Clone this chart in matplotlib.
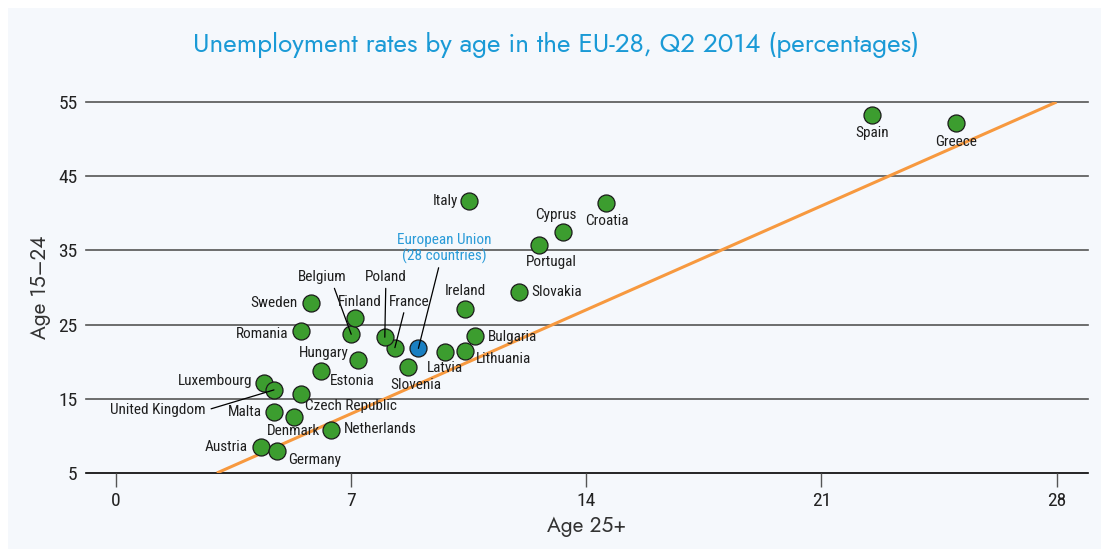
import matplotlib
matplotlib.use("Agg")
from matplotlib import pyplot as plt
from matplotlib.patches import Rectangle
import numpy as np

# data (% unemployment, Q2 2014)
countries = ["Spain", "Greece", "Italy", "Croatia", "Cyprus", "Portugal", "Slovakia",
             "Ireland", "Bulgaria", "Lithuania", "Latvia", "Slovenia", "France", "Poland",
             "Belgium", "Finland", "Sweden", "Romania", "Hungary", "Estonia", "Luxembourg",
             "United Kingdom", "Czech Republic", "Malta", "Denmark", "Netherlands",
             "Austria", "Germany"]
age_25_plus = [22.5, 25.0, 10.5, 14.6, 13.3, 12.6, 12.0, 10.4, 10.7, 10.4, 9.8, 8.7, 8.3, 8.0,
               7.0, 7.1, 5.8, 5.5, 7.2, 6.1, 4.4, 4.7, 5.5, 4.7, 5.3, 6.4, 4.3, 4.8]
age_15_24 = [53.2, 52.2, 41.7, 41.4, 37.5, 35.7, 29.4, 27.1, 23.5, 21.5, 21.3, 19.3, 21.9, 23.3,
             23.7, 25.9, 27.9, 24.1, 20.2, 18.7, 17.1, 16.2, 15.7, 13.2, 12.6, 10.8, 8.5, 8.0]
eu_name = "European Union\n(28 countries)"
eu_25_plus = 9.0
eu_15_24 = 21.8

# reference line
ref_x = [3, 28]
ref_y = [5, 55]

x_ticks = [0, 7, 14, 21, 28]
y_ticks = [5, 15, 25, 35, 45, 55]

# label placement: offset in pixels, alignment, leader line relpos (None = no line)
label_pos = {
    "Spain": (0, -18, "center", None),
    "Greece": (0, -19, "center", None),
    "Italy": (-11, 0, "right", None),
    "Croatia": (0, -18, "center", None),
    "Cyprus": (-7, 17, "center", None),
    "Portugal": (12, -17, "center", None),
    "Slovakia": (12, 0, "left", None),
    "Ireland": (0, 18, "center", None),
    "Bulgaria": (12, -1, "left", None),
    "Lithuania": (10, -8, "left", None),
    "Latvia": (0, -16, "center", None),
    "Slovenia": (7, -18, "center", None),
    "France": (14, 46, "center", (0.4, 0)),
    "Poland": (1, 60, "center", (0.5, 0)),
    "Belgium": (-29, 57, "center", (0.72, 0)),
    "Finland": (5, 16, "center", None),
    "Sweden": (-13, 0, "right", None),
    "Romania": (-12, -3, "right", None),
    "Hungary": (-9, 7, "right", None),
    "Estonia": (9, -10, "left", None),
    "Luxembourg": (-12, 2, "right", None),
    "United Kingdom": (-68, -20, "right", (1.04, 0.55)),
    "Czech Republic": (50, -12, "center", None),
    "Malta": (-12, 0, "right", None),
    "Denmark": (-1, -14, "center", None),
    "Netherlands": (13, 1, "left", None),
    "Austria": (-13, 0, "right", None),
    "Germany": (11, -9, "left", None),
}

bg = "#f5f8fc"
green = "#3c9d2f"
blue = "#1a7fc2"
cond = ["Roboto Condensed", "DejaVu Sans"]
geo = ["Jost", "DejaVu Sans"]

fig = plt.figure(figsize=(11.01, 5.49), dpi=100)
fig.patch.set_facecolor("white")
fig.patches.append(Rectangle((0.007, 0), 0.993, 0.985, transform=fig.transFigure,
                             facecolor=bg, edgecolor="none", zorder=-10))

ax = fig.add_axes([0.078, 0.1384, 0.91, 0.6758])
ax.set_zorder(1)
ax.set_facecolor("none")
ax.set_xlim(-0.9, 28.93)
ax.set_ylim(5, 55)

for y in y_ticks:
    ax.axhline(y, color="black" if y == 5 else "#555555", lw=1.2, zorder=1, clip_on=False)

ax.plot(ref_x, ref_y, color="#f7993f", lw=2.2, zorder=2, solid_capstyle="butt")

ax.scatter(age_25_plus, age_15_24, s=150, color=green, edgecolor="#1a1a1a", linewidth=0.9,
           zorder=3, clip_on=False)
ax.scatter([eu_25_plus], [eu_15_24], s=150, color=blue, edgecolor="#1a1a1a", linewidth=0.9,
           zorder=3)

for name, x, y in zip(countries, age_25_plus, age_15_24):
    dx, dy, ha, rel = label_pos[name]
    arrow = None
    if rel is not None:
        arrow = dict(arrowstyle="-", color="black", lw=0.9, shrinkA=1, shrinkB=0, relpos=rel)
    ax.annotate(name, (x, y), xytext=(dx, dy), textcoords="offset pixels",
                ha=ha, va="center", fontsize=11, family=cond, color="#1e1e1e",
                arrowprops=arrow, zorder=4)

ax.annotate(eu_name, (eu_25_plus, eu_15_24), xytext=(26, 100), textcoords="offset pixels",
            ha="center", va="center", fontsize=11, family=cond, color="#2a9bd8",
            linespacing=1.1,
            arrowprops=dict(arrowstyle="-", color="black", lw=0.9, shrinkA=1, shrinkB=0,
                            relpos=(0.45, 0)), zorder=4)

for s in ax.spines.values():
    s.set_visible(False)
ax.set_xticks(x_ticks)
ax.set_yticks(y_ticks)
ax.tick_params(axis="x", length=10, width=1, color="#555555", pad=4)
ax.tick_params(axis="y", length=0, pad=6)
for lab in ax.get_xticklabels() + ax.get_yticklabels():
    lab.set_family(cond)
    lab.set_fontsize(14)
    lab.set_color("#222222")

ax.set_xlabel("Age 25+", fontsize=15, color="#333333", family=geo, labelpad=3)
ax.set_ylabel("Age 15\u201324", fontsize=15, color="#333333", family=geo, labelpad=5)

fig.text(0.505, 0.918, "Unemployment rates by age in the EU-28, Q2 2014 (percentages)",
         ha="center", va="center", fontsize=18.8, color="#1a9ad6", family=geo)

fig.savefig("out.png", dpi=100, facecolor=fig.get_facecolor())
